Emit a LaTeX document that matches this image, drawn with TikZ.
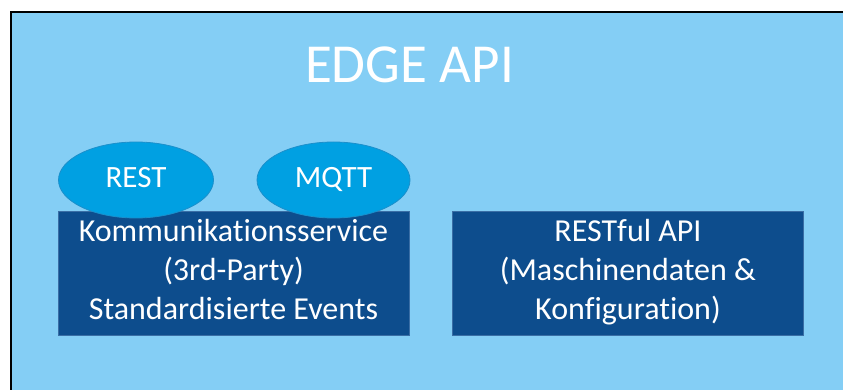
\documentclass[tikz,border=0pt]{standalone}
\usepackage{fontspec}
\setmainfont{Carlito}[Ligatures=NoCommon]
\usetikzlibrary{shapes.geometric}
\definecolor{bgblue}{HTML}{84CEF5}
\definecolor{ellfill}{HTML}{00A0E2}
\definecolor{elldraw}{HTML}{1B8FCB}
\definecolor{boxfill}{HTML}{0D4D8D}
\definecolor{boxdraw}{HTML}{3A6EA5}
\begin{document}
\begin{tikzpicture}[x=1pt,y=-1pt,
  darkbox/.style={rectangle, fill=boxfill, draw=boxdraw, line width=0.8pt,
    minimum width=351pt, minimum height=124pt, inner sep=0pt},
  boxtext/.style={text=white, align=center, inner sep=0pt,
    font=\fontsize{32}{39}\selectfont},
  proto/.style={ellipse, fill=ellfill, draw=elldraw, line width=0.8pt,
    inner sep=0pt, text=white, font=\fontsize{31}{37}\selectfont,
    text height=20pt, text depth=4pt}
]
\useasboundingbox (0,0) rectangle (843,390);
\fill[white] (0,0) rectangle (843,390);
\fill[bgblue] (11,12) rectangle (850,400);
\draw[black, line width=1.6pt] (11,400) -- (11,12) -- (850,12);

\node[text=white, font=\fontsize{55}{66}\selectfont, anchor=base, inner sep=0pt]
  (title) at (409.5,82.7) {EDGE API};

\node[darkbox] (komm) at (233.5,273) {};
\node[boxtext] (kommtext) at (komm.center)
  {\strut Kommunikationsservice\\\strut (3rd-Party)\\\strut Standardisierte Events};

\node[darkbox] (rest) at (628,273) {};
\node[boxtext] (resttext) at (rest.center)
  {\strut RESTful API\\\strut (Maschinendaten \&\\\strut Konfiguration)};

\node[proto, minimum width=155pt, minimum height=76pt] (restp) at (136,180) {REST};
\node[proto, minimum width=153pt, minimum height=76pt] (mqtt) at (333.5,180) {MQTT};
\end{tikzpicture}
\end{document}
